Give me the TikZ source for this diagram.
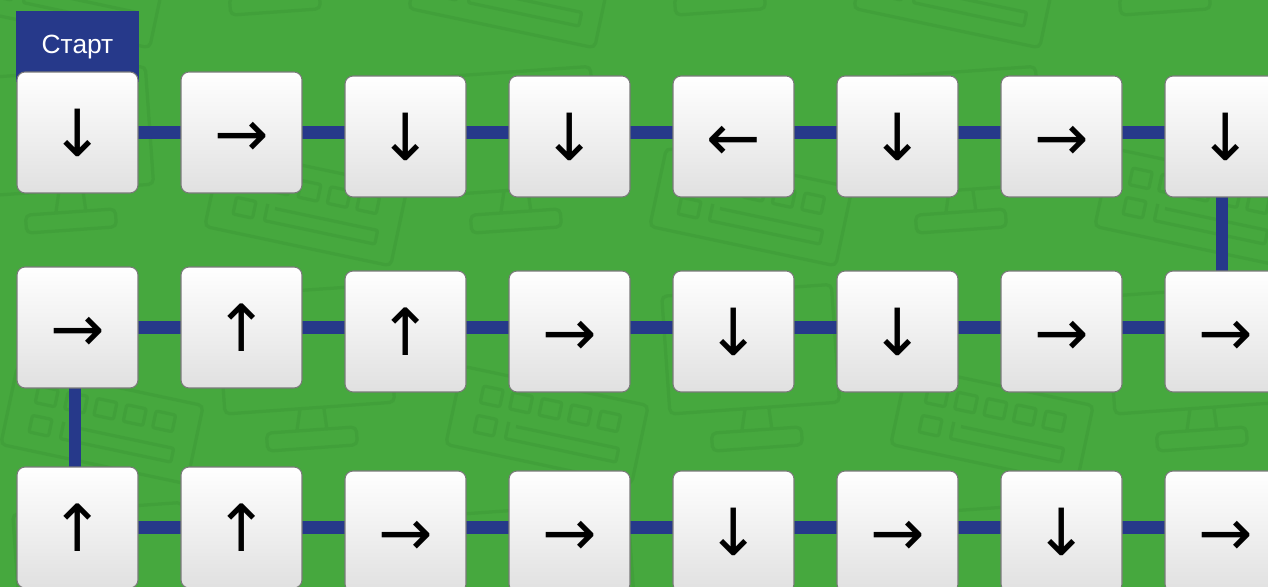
\documentclass[tikz,border=0pt]{standalone}
\usepackage{fontspec}
\setmainfont{Liberation Sans}
\newfontfamily\arrowfont{DejaVu Sans}
\definecolor{fieldgreen}{HTML}{46A83E}
\definecolor{patterngreen}{HTML}{41A03A}
\definecolor{pathblue}{HTML}{26398A}
\definecolor{cardedge}{HTML}{7A7A7A}
\usetikzlibrary{positioning, calc, backgrounds}
\newcommand{\lowarrow}[1]{\raisebox{-4pt}[\height][\depth]{#1}}
\tikzset{
  card/.style={
    draw=cardedge, line width=0.6pt, rounded corners=0.16cm,
    top color=white, bottom color=black!12,
    minimum width=2.42cm, minimum height=2.42cm, inner sep=0pt,
    font=\arrowfont\fontsize{37}{37}\selectfont
  },
  link/.style={pathblue, line width=0.25cm},
  startbox/.style={
    fill=pathblue, text=white, minimum width=2.46cm, minimum height=1.42cm,
    inner sep=0pt, font=\fontsize{15}{15}\selectfont
  },
  motif/.style={draw=patterngreen, line width=0.065cm, rounded corners=0.1cm},
}

\begin{document}
\begin{tikzpicture}[x=0.02cm, y=-0.02cm]
    \useasboundingbox (0,0) rectangle (1268,587);
    \clip (0,0) rectangle (1268,587);

    % start label
    \node[startbox, anchor=north] (start) at (77.5,11) {Старт};

    % row 1
    \node[card] (c11) at (77.5,132.5) {↓};
    \node[card] (c12) at (241.5,132.5) {\lowarrow{→}};
    \node[card] (c13) at (405.5,136.5) {↓};
    \node[card] (c14) at (569.5,136.5) {↓};
    \node[card] (c15) at (733.5,136.5) {\lowarrow{←}};
    \node[card] (c16) at (897.5,136.5) {↓};
    \node[card] (c17) at (1061.5,136.5) {\lowarrow{→}};
    \node[card] (c18) at (1225.5,136.5) {↓};

    % row 2
    \node[card] (c21) at (77.5,327.5) {\lowarrow{→}};
    \node[card] (c22) at (241.5,327.5) {↑};
    \node[card] (c23) at (405.5,331.5) {↑};
    \node[card] (c24) at (569.5,331.5) {\lowarrow{→}};
    \node[card] (c25) at (733.5,331.5) {↓};
    \node[card] (c26) at (897.5,331.5) {↓};
    \node[card] (c27) at (1061.5,331.5) {\lowarrow{→}};
    \node[card] (c28) at (1225.5,331.5) {\lowarrow{→}};

    % row 3
    \node[card] (c31) at (77.5,527.5) {↑};
    \node[card] (c32) at (241.5,527.5) {↑};
    \node[card] (c33) at (405.5,531.5) {\lowarrow{→}};
    \node[card] (c34) at (569.5,531.5) {\lowarrow{→}};
    \node[card] (c35) at (733.5,531.5) {↓};
    \node[card] (c36) at (897.5,531.5) {\lowarrow{→}};
    \node[card] (c37) at (1061.5,531.5) {↓};
    \node[card] (c38) at (1225.5,531.5) {\lowarrow{→}};

    \begin{scope}[on background layer]
      \fill[fieldgreen] (0,0) rectangle (1268,587);
      % faint computer pattern
      \foreach \row/\xo in {0/720, 1/516, 2/312, 3/108} {
        \foreach \col in {-2,...,2} {
          \begin{scope}[shift={({\xo+445*\col},{4+218*\row})}]
            % monitor
            \draw[motif, rotate=4] (-85,-150) rectangle (85,-32);
            \draw[motif] (-12,-31) -- (-15,-10) (12,-31) -- (15,-10);
            \draw[motif, rotate=4] (-45,-10) rectangle (45,8);
            % keyboard
            \begin{scope}[shift={(-210,-15)}, rotate=-12]
              \draw[motif] (-95,-40) rectangle (95,40);
              \foreach \k in {-70,-40,...,50}
                \draw[motif, rounded corners=0.04cm] (\k,-25) rectangle (\k+20,-8);
              \draw[motif, rounded corners=0.04cm] (-70,5) rectangle (-50,22);
              \draw[motif, rounded corners=0.04cm] (-38,5) -- (-38,22) -- (75,22) -- (75,8) -- (-30,8);
            \end{scope}
          \end{scope}
        }
      }
      % path between the cards
      \draw[link] (c11.center) -- (c11.center -| c18.center);
      \draw[link] ([xshift=-0.07cm]c18.center) -- ([xshift=-0.07cm]c28.center);
      \draw[link] (c21.center) -- (c21.center -| c28.center);
      \draw[link] ([xshift=-0.05cm]c21.center) -- ([xshift=-0.05cm]c31.center);
      \draw[link] (c31.center) -- (c31.center -| c38.east);
    \end{scope}
\end{tikzpicture}
\end{document}
